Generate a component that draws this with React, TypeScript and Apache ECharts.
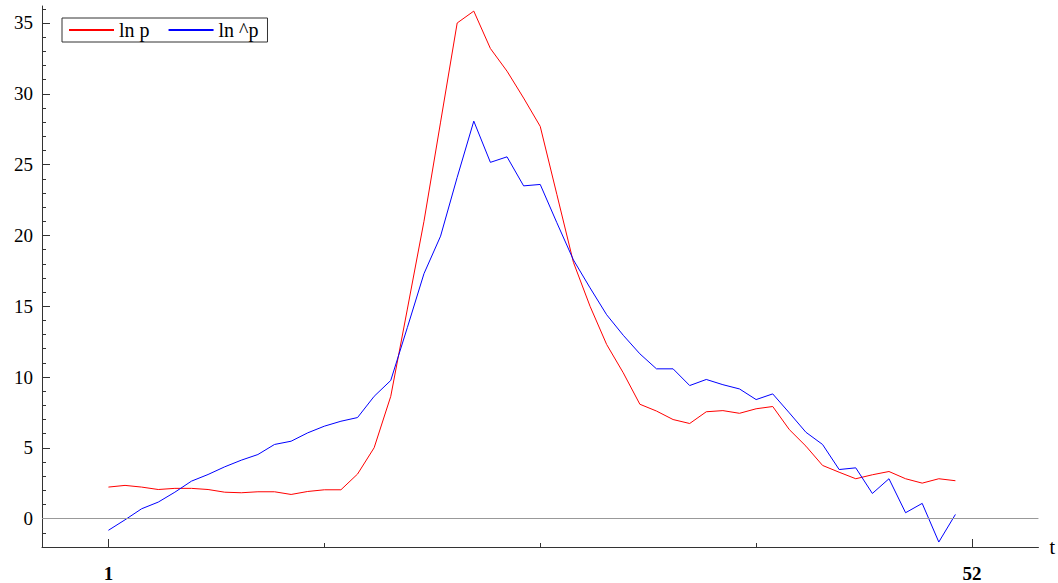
import React, { useEffect, useRef } from "react";
import * as echarts from "echarts";

const T = [1,2,3,4,5,6,7,8,9,10,11,12,13,14,15,16,17,18,19,20,21,22,23,24,25,26,27,28,29,30,31,32,33,34,35,36,37,38,39,40,41,42,43,44,45,46,47,48,49,50,51,52];

const LN_P = [2.23,2.35,2.23,2.06,2.14,2.14,2.06,1.87,1.83,1.9,1.9,1.71,1.92,2.04,2.04,3.15,5.01,8.64,14.8,21.0,28.0,35.0,35.84,33.2,31.6,29.7,27.7,22.9,18.1,15.0,12.3,10.3,8.08,7.6,7.0,6.72,7.55,7.63,7.44,7.76,7.92,6.29,5.12,3.76,3.28,2.82,3.1,3.33,2.82,2.51,2.82,2.68];

const LN_P_HAT = [-0.82,-0.08,0.7,1.17,1.87,2.65,3.12,3.66,4.13,4.53,5.24,5.47,6.06,6.53,6.88,7.14,8.64,9.76,13.5,17.3,19.95,24.1,28.07,25.16,25.55,23.5,23.6,20.9,18.27,16.3,14.4,12.95,11.64,10.58,10.58,9.4,9.83,9.46,9.16,8.41,8.81,7.47,6.1,5.24,3.47,3.59,1.78,2.82,0.42,1.08,-1.65,0.3];

const SERIES_NAMES = ["ln p", "ln ^p"];
const Y_MAJOR = [0, 5, 10, 15, 20, 25, 30, 35];
const Y_MINOR = [-1,1,2,3,4,6,7,8,9,11,12,13,14,16,17,18,19,21,22,23,24,26,27,28,29,31,32,33,34,36];
const X_MAJOR = [1, 53];
const X_MAJOR_LABELS = ["1", "52"];
const X_MINOR = [14, 27, 40];

const FONT = "'Liberation Serif', 'Times New Roman', serif";

export default function App() {
  const ref = useRef<HTMLDivElement>(null);
  useEffect(() => {
    if (!ref.current) return;
    const chart = echarts.init(ref.current, null, { renderer: "svg" });
    const axisColor = "#333";
    chart.setOption({
      animation: false,
      backgroundColor: "#fff",
      grid: { left: 42, right: 19, top: 6, bottom: 35, containLabel: false },
      legend: {
        left: 62,
        top: 18,
        orient: "horizontal",
        data: SERIES_NAMES,
        itemWidth: 45,
        itemHeight: 16,
        itemGap: 18,
        padding: [2, 9, 2, 6],
        borderColor: "#333",
        borderWidth: 1,
        borderRadius: 0,
        itemStyle: { opacity: 0 },
        textStyle: { fontFamily: FONT, fontSize: 20, color: "#000" },
      },
      xAxis: [
        {
          type: "value",
          min: -3,
          max: 57,
          position: "bottom",
          name: "t",
          nameLocation: "end",
          nameGap: 11,
          nameTextStyle: { fontFamily: FONT, fontSize: 20, color: "#000", padding: [10, 0, 0, 0] },
          axisLine: { show: true, onZero: false, lineStyle: { color: axisColor, width: 1 } },
          axisTick: { show: true, inside: true, length: 8, customValues: X_MAJOR, lineStyle: { color: axisColor } },
          axisLabel: {
            show: true,
            customValues: X_MAJOR,
            margin: 17,
            fontFamily: FONT,
            fontSize: 19,
            fontWeight: "bold",
            color: "#000",
            formatter: (v: number) => X_MAJOR_LABELS[X_MAJOR.indexOf(v)] ?? "",
          },
          splitLine: { show: false },
        },
        {
          type: "value",
          min: -3,
          max: 57,
          position: "bottom",
          axisLine: { show: false, onZero: false },
          axisTick: { show: true, inside: true, length: 4, customValues: X_MINOR, lineStyle: { color: axisColor } },
          axisLabel: { show: false },
          splitLine: { show: false },
        },
      ],
      yAxis: [
        {
          type: "value",
          min: -2,
          max: 36.2,
          position: "left",
          axisLine: { show: true, onZero: false, lineStyle: { color: axisColor, width: 1 } },
          axisTick: { show: true, inside: true, length: 8, customValues: Y_MAJOR, lineStyle: { color: axisColor } },
          axisLabel: {
            show: true,
            customValues: Y_MAJOR,
            margin: 9,
            fontFamily: FONT,
            fontSize: 19,
            color: "#000",
          },
          splitLine: { show: false },
        },
        {
          type: "value",
          min: -2,
          max: 36.2,
          position: "left",
          axisLine: { show: false, onZero: false },
          axisTick: { show: true, inside: true, length: 4, customValues: Y_MINOR, lineStyle: { color: axisColor } },
          axisLabel: { show: false },
          splitLine: { show: false },
        },
      ],
      series: [
        {
          name: SERIES_NAMES[0],
          type: "line",
          data: T.map((t, i) => [t, LN_P[i]]),
          symbol: "none",
          showSymbol: false,
          color: "#ff0000",
          lineStyle: { color: "#ff0000", width: 1 },
          z: 3,
          markLine: {
            silent: true,
            symbol: "none",
            label: { show: false },
            lineStyle: { color: "#999", width: 1, type: "solid" },
            data: [{ yAxis: 0 }],
          },
        },
        {
          name: SERIES_NAMES[1],
          type: "line",
          data: T.map((t, i) => [t, LN_P_HAT[i]]),
          symbol: "none",
          showSymbol: false,
          color: "#0000ff",
          lineStyle: { color: "#0000ff", width: 1 },
          z: 4,
        },
      ],
    });
    return () => chart.dispose();
  }, []);
  return (
    <div
      ref={ref}
      style={{ position: "fixed", left: 0, top: 0, width: 1058, height: 583, background: "#fff" }}
    />
  );
}
